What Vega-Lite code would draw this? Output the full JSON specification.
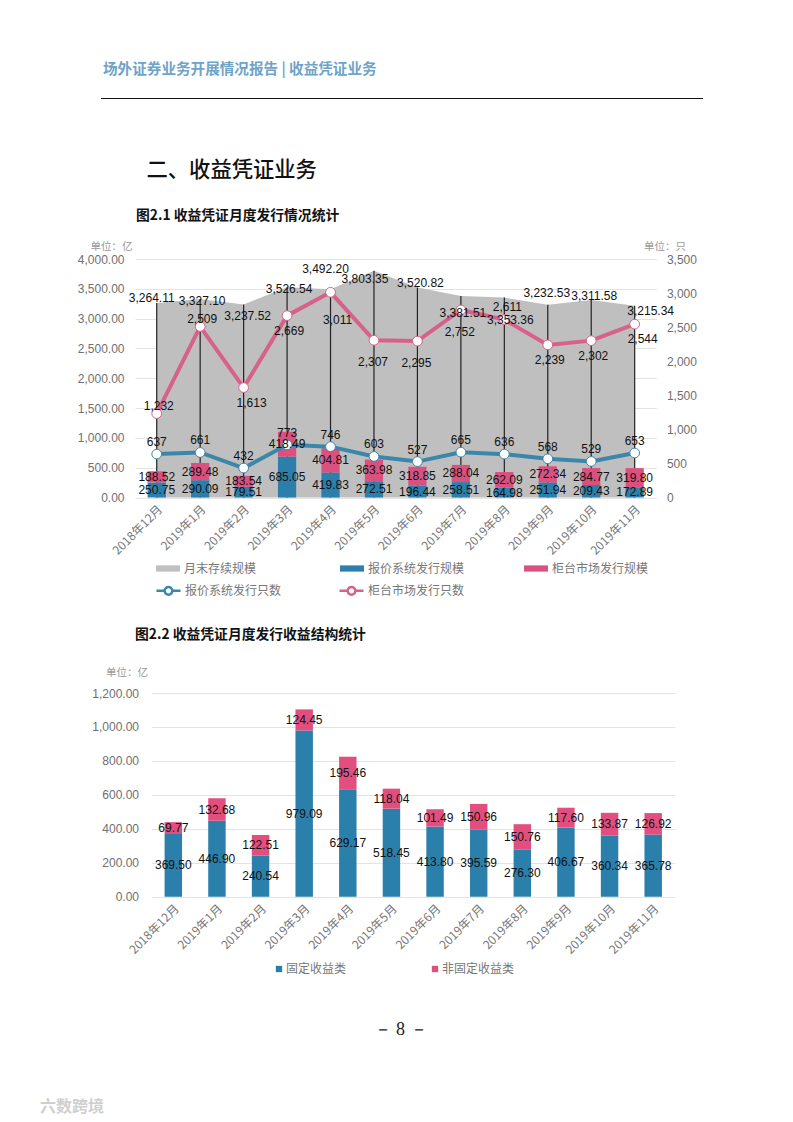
{
"$schema":"https://vega.github.io/schema/vega-lite/v6.json",
"padding":{"left":0,"top":62,"right":0,"bottom":6},
"background":"white",
"title":{"text":"六数跨境","orient":"bottom","anchor":"start","frame":"group","dx":40,"offset":60,"font":"Noto Sans CJK SC","fontSize":16,"fontWeight":"bold","color":"#cfcfcf"},
"config":{"view":{"stroke":null},"font":"Liberation Sans","concat":{"spacing":28},
 "axis":{"labelFont":"Liberation Sans","labelColor":"#6f6f6f","domain":false,"ticks":false,"gridColor":"#e3e3e3","titleFont":"Noto Sans CJK SC","titleFontWeight":"normal","labelOverlap":false},
 "legend":{"labelFont":"Noto Sans CJK SC","labelColor":"#777777","labelFontSize":12,"title":null}},
"datasets":{
"area":[
{"month":"2018年12月","series":"月末存续规模","value":3264.11},{"month":"2019年1月","series":"月末存续规模","value":3327.10},{"month":"2019年2月","series":"月末存续规模","value":3237.52},{"month":"2019年3月","series":"月末存续规模","value":3526.54},{"month":"2019年4月","series":"月末存续规模","value":3492.20},{"month":"2019年5月","series":"月末存续规模","value":3803.35},{"month":"2019年6月","series":"月末存续规模","value":3520.82},{"month":"2019年7月","series":"月末存续规模","value":3381.51},{"month":"2019年8月","series":"月末存续规模","value":3353.36},{"month":"2019年9月","series":"月末存续规模","value":3232.53},{"month":"2019年10月","series":"月末存续规模","value":3311.58},{"month":"2019年11月","series":"月末存续规模","value":3215.34}],
"bars":[
{"month":"2018年12月","series":"报价系统发行规模","value":250.75},{"month":"2019年1月","series":"报价系统发行规模","value":290.09},{"month":"2019年2月","series":"报价系统发行规模","value":179.51},{"month":"2019年3月","series":"报价系统发行规模","value":685.05},{"month":"2019年4月","series":"报价系统发行规模","value":419.83},{"month":"2019年5月","series":"报价系统发行规模","value":272.51},{"month":"2019年6月","series":"报价系统发行规模","value":196.44},{"month":"2019年7月","series":"报价系统发行规模","value":258.51},{"month":"2019年8月","series":"报价系统发行规模","value":164.98},{"month":"2019年9月","series":"报价系统发行规模","value":251.94},{"month":"2019年10月","series":"报价系统发行规模","value":209.43},{"month":"2019年11月","series":"报价系统发行规模","value":172.89},
{"month":"2018年12月","series":"柜台市场发行规模","value":188.52},{"month":"2019年1月","series":"柜台市场发行规模","value":289.48},{"month":"2019年2月","series":"柜台市场发行规模","value":183.54},{"month":"2019年3月","series":"柜台市场发行规模","value":418.49},{"month":"2019年4月","series":"柜台市场发行规模","value":404.81},{"month":"2019年5月","series":"柜台市场发行规模","value":363.98},{"month":"2019年6月","series":"柜台市场发行规模","value":318.85},{"month":"2019年7月","series":"柜台市场发行规模","value":288.04},{"month":"2019年8月","series":"柜台市场发行规模","value":262.09},{"month":"2019年9月","series":"柜台市场发行规模","value":272.34},{"month":"2019年10月","series":"柜台市场发行规模","value":284.77},{"month":"2019年11月","series":"柜台市场发行规模","value":319.80}],
"blue":[
{"month":"2018年12月","series":"报价系统发行只数","value":637},{"month":"2019年1月","series":"报价系统发行只数","value":661},{"month":"2019年2月","series":"报价系统发行只数","value":432},{"month":"2019年3月","series":"报价系统发行只数","value":773},{"month":"2019年4月","series":"报价系统发行只数","value":746},{"month":"2019年5月","series":"报价系统发行只数","value":603},{"month":"2019年6月","series":"报价系统发行只数","value":527},{"month":"2019年7月","series":"报价系统发行只数","value":665},{"month":"2019年8月","series":"报价系统发行只数","value":636},{"month":"2019年9月","series":"报价系统发行只数","value":568},{"month":"2019年10月","series":"报价系统发行只数","value":529},{"month":"2019年11月","series":"报价系统发行只数","value":653}],
"pink":[
{"month":"2018年12月","series":"柜台市场发行只数","value":1232},{"month":"2019年1月","series":"柜台市场发行只数","value":2509},{"month":"2019年2月","series":"柜台市场发行只数","value":1613},{"month":"2019年3月","series":"柜台市场发行只数","value":2669},{"month":"2019年4月","series":"柜台市场发行只数","value":3011},{"month":"2019年5月","series":"柜台市场发行只数","value":2307},{"month":"2019年6月","series":"柜台市场发行只数","value":2295},{"month":"2019年7月","series":"柜台市场发行只数","value":2752},{"month":"2019年8月","series":"柜台市场发行只数","value":2611},{"month":"2019年9月","series":"柜台市场发行只数","value":2239},{"month":"2019年10月","series":"柜台市场发行只数","value":2302},{"month":"2019年11月","series":"柜台市场发行只数","value":2544}],
"structure":[
{"month":"2018年12月","series":"固定收益类","value":369.50},{"month":"2019年1月","series":"固定收益类","value":446.90},{"month":"2019年2月","series":"固定收益类","value":240.54},{"month":"2019年3月","series":"固定收益类","value":979.09},{"month":"2019年4月","series":"固定收益类","value":629.17},{"month":"2019年5月","series":"固定收益类","value":518.45},{"month":"2019年6月","series":"固定收益类","value":413.80},{"month":"2019年7月","series":"固定收益类","value":395.59},{"month":"2019年8月","series":"固定收益类","value":276.30},{"month":"2019年9月","series":"固定收益类","value":406.67},{"month":"2019年10月","series":"固定收益类","value":360.34},{"month":"2019年11月","series":"固定收益类","value":365.78},
{"month":"2018年12月","series":"非固定收益类","value":69.77},{"month":"2019年1月","series":"非固定收益类","value":132.68},{"month":"2019年2月","series":"非固定收益类","value":122.51},{"month":"2019年3月","series":"非固定收益类","value":124.45},{"month":"2019年4月","series":"非固定收益类","value":195.46},{"month":"2019年5月","series":"非固定收益类","value":118.04},{"month":"2019年6月","series":"非固定收益类","value":101.49},{"month":"2019年7月","series":"非固定收益类","value":150.96},{"month":"2019年8月","series":"非固定收益类","value":150.76},{"month":"2019年9月","series":"非固定收益类","value":117.60},{"month":"2019年10月","series":"非固定收益类","value":133.87},{"month":"2019年11月","series":"非固定收益类","value":126.92}],
"line":[{"a":0,"b":1}]
},
"resolve":{"scale":{"color":"independent","stroke":"independent"},"legend":{"color":"independent","stroke":"independent"}},
"vconcat":[
{"resolve":{"scale":{"color":"independent","stroke":"independent"},"legend":{"color":"independent","stroke":"independent"}},"hconcat":[
 {"width":1,"height":1,"data":{"name":"line"},"mark":{"type":"rule","opacity":0},"encoding":{"x":{"field":"a","type":"quantitative","axis":null}}},
 {"width":602,"height":1,"data":{"name":"line"},
  "title":{"text":"场外证券业务开展情况报告 | 收益凭证业务","anchor":"start","frame":"group","dx":2,"offset":21,"font":"Noto Sans CJK SC","fontSize":14.6,"fontWeight":"bold","color":"#6fa3c7"},
  "mark":{"type":"rule","color":"#111111","strokeWidth":1.2},
  "encoding":{
   "x":{"field":"a","type":"quantitative","scale":{"domain":[0,1],"nice":false},"axis":{"labels":false,"grid":false,"title":"二、收益凭证业务","titleX":45,"titleY":71,"titleAlign":"left","titleBaseline":"middle","titleAngle":0,"titleFontSize":21.3,"titleFontWeight":500,"titleColor":"#111111"}},
   "x2":{"field":"b"}}}
 ],"spacing":99},
{"resolve":{"scale":{"color":"independent","stroke":"independent"},"legend":{"color":"independent","stroke":"independent"}},"hconcat":[
 {"width":1,"height":1,"data":{"name":"line"},"mark":{"type":"rule","opacity":0},"encoding":{"x":{"field":"a","type":"quantitative","axis":null}}},
 {"width":521.4,"height":238.5,
  "title":{"text":"图2.1 收益凭证月度发行情况统计","anchor":"start","frame":"group","dx":1,"offset":18,"font":"Noto Sans CJK SC","fontSize":13.8,"fontWeight":"bold","color":"#111111"},
  "encoding":{"x":{"field":"month","type":"nominal","scale":{"type":"band","domain":["2018年12月","2019年1月","2019年2月","2019年3月","2019年4月","2019年5月","2019年6月","2019年7月","2019年8月","2019年9月","2019年10月","2019年11月"],"paddingInner":0.58,"paddingOuter":0.29},"axis":{"title":null,"labelAngle":-45,"labelFont":"Noto Sans CJK SC","labelFontSize":12,"labelColor":"#777777","labelPadding":6,"labelOverlap":false}}},
  "resolve":{"scale":{"y":"independent","color":"shared","stroke":"shared"},"axis":{"y":"independent"}},
  "layer":[
   {"layer":[
    {"data":{"name":"area"},"mark":{"type":"area","opacity":1},"encoding":{
      "y":{"field":"value","type":"quantitative","scale":{"domain":[0,4000],"nice":false},"axis":{"values":[0,500,1000,1500,2000,2500,3000,3500,4000],"tickCount":20,"format":",.2f","labelFontSize":12,"labelPadding":11,"grid":true,"title":"单位：亿","titleAngle":0,"titleX":-45,"titleY":-13,"titleAlign":"left","titleBaseline":"middle","titleFontSize":10.5,"titleColor":"#999999"}},
      "color":{"field":"series","type":"nominal","scale":{"domain":["月末存续规模","报价系统发行规模","柜台市场发行规模"],"range":["#bfbfbf","#2c7fab","#da5180"]},
       "legend":{"orient":"none","legendX":21,"legendY":297.5,"columns":3,"gridAlign":"all","columnPadding":59,"symbolType":"M-1,-0.26H1V0.26H-1Z","symbolSize":576,"symbolStrokeWidth":0,"labelOffset":4}}}},
    {"data":{"name":"area"},"mark":{"type":"rule","color":"#222222","strokeWidth":1.2},"encoding":{"y":{"field":"value","type":"quantitative"},"y2":{"datum":0}}},
    {"data":{"name":"bars"},"transform":[{"stack":"value","groupby":["month"],"sort":[{"field":"series","order":"ascending"}],"as":["y0","y1"]}],
     "mark":{"type":"bar"},"encoding":{"y":{"field":"y1","type":"quantitative"},"y2":{"field":"y0"},"color":{"field":"series","type":"nominal"}}}
   ]},
   {"layer":[
    {"data":{"name":"blue"},"mark":{"type":"line","strokeWidth":4},"encoding":{"y":{"field":"value","type":"quantitative","scale":{"domain":[0,3500],"nice":false},"axis":{"orient":"right","values":[0,500,1000,1500,2000,2500,3000,3500],"tickCount":20,"format":",d","labelFontSize":12,"labelPadding":10,"grid":false,"title":"单位：只","titleAngle":0,"titleX":-13,"titleY":-13,"titleAlign":"left","titleBaseline":"middle","titleFontSize":10.5,"titleColor":"#999999"}},
      "stroke":{"field":"series","type":"nominal","scale":{"domain":["报价系统发行只数","柜台市场发行只数"],"range":["#3b87aa","#d8618b"]},
       "legend":{"orient":"none","legendX":20,"legendY":318,"columns":2,"gridAlign":"all","columnPadding":52,"symbolType":"M-1,0H-0.32M0.32,0H1M0.32,0A0.32,0.32 0 1 1 -0.32,0A0.32,0.32 0 1 1 0.32,0","symbolSize":576,"symbolStrokeWidth":2.5,"symbolFillColor":"white","labelOffset":3}}}},
    {"data":{"name":"pink"},"mark":{"type":"line","strokeWidth":4},"encoding":{"y":{"field":"value","type":"quantitative"},"stroke":{"field":"series","type":"nominal"}}},
    {"data":{"name":"blue"},"mark":{"type":"point","filled":false,"fill":"white","fillOpacity":1,"opacity":1,"size":95,"strokeWidth":1},"encoding":{"y":{"field":"value","type":"quantitative"},"stroke":{"field":"series","type":"nominal"}}},
    {"data":{"name":"pink"},"mark":{"type":"point","filled":false,"fill":"white","fillOpacity":1,"opacity":1,"size":95,"strokeWidth":1},"encoding":{"y":{"field":"value","type":"quantitative"},"stroke":{"field":"series","type":"nominal"}}},
    {"data":{"name":"blue"},"mark":{"type":"text","dy":-12,"fontSize":12,"color":"#111111"},"encoding":{"y":{"field":"value","type":"quantitative"},"text":{"field":"value","type":"quantitative","format":",d"}}},
    {"data":{"name":"pink"},"transform":[{"filter":{"field":"month","oneOf":["2018年12月","2019年1月"]}}],"mark":{"type":"text","dy":-8,"dx":2,"fontSize":12,"color":"#111111"},"encoding":{"y":{"field":"value","type":"quantitative"},"text":{"field":"value","type":"quantitative","format":",d"}}},
    {"data":{"name":"pink"},"transform":[{"filter":{"field":"month","oneOf":["2019年8月"]}}],"mark":{"type":"text","dy":-13,"dx":3,"fontSize":12,"color":"#111111"},"encoding":{"y":{"field":"value","type":"quantitative"},"text":{"field":"value","type":"quantitative","format":",d"}}},
    {"data":{"name":"pink"},"transform":[{"filter":{"field":"month","oneOf":["2019年3月","2019年9月","2019年10月"]}}],"mark":{"type":"text","dy":15,"dx":2,"fontSize":12,"color":"#111111"},"encoding":{"y":{"field":"value","type":"quantitative"},"text":{"field":"value","type":"quantitative","format":",d"}}},
    {"data":{"name":"pink"},"transform":[{"filter":{"field":"month","oneOf":["2019年2月","2019年11月"]}}],"mark":{"type":"text","dy":15,"dx":8,"fontSize":12,"color":"#111111"},"encoding":{"y":{"field":"value","type":"quantitative"},"text":{"field":"value","type":"quantitative","format":",d"}}},
    {"data":{"name":"pink"},"transform":[{"filter":{"field":"month","oneOf":["2019年4月"]}}],"mark":{"type":"text","dy":28,"dx":7,"fontSize":12,"color":"#111111"},"encoding":{"y":{"field":"value","type":"quantitative"},"text":{"field":"value","type":"quantitative","format":",d"}}},
    {"data":{"name":"pink"},"transform":[{"filter":{"field":"month","oneOf":["2019年5月","2019年6月","2019年7月"]}}],"mark":{"type":"text","dy":22,"dx":-1,"fontSize":12,"color":"#111111"},"encoding":{"y":{"field":"value","type":"quantitative"},"text":{"field":"value","type":"quantitative","format":",d"}}}
   ]},
   {"layer":[
    {"data":{"name":"bars"},"transform":[{"stack":"value","groupby":["month"],"sort":[{"field":"series","order":"ascending"}],"as":["y0","y1"]},{"calculate":"(datum.y0+datum.y1)/2","as":"mid"}],
     "mark":{"type":"text","fontSize":12,"color":"#111111"},"encoding":{"y":{"field":"mid","type":"quantitative","scale":{"domain":[0,4000],"nice":false},"axis":null},"text":{"field":"value","type":"quantitative","format":",.2f"}}},
    {"data":{"name":"area"},"transform":[{"filter":{"field":"month","oneOf":["2018年12月"]}}],"mark":{"type":"text","dy":-5,"dx":-5,"fontSize":12,"color":"#111111"},"encoding":{"y":{"field":"value","type":"quantitative"},"text":{"field":"value","type":"quantitative","format":",.2f"}}},
    {"data":{"name":"area"},"transform":[{"filter":{"field":"month","oneOf":["2019年1月","2019年3月"]}}],"mark":{"type":"text","dy":2,"dx":2,"fontSize":12,"color":"#111111"},"encoding":{"y":{"field":"value","type":"quantitative"},"text":{"field":"value","type":"quantitative","format":",.2f"}}},
    {"data":{"name":"area"},"transform":[{"filter":{"field":"month","oneOf":["2019年2月"]}}],"mark":{"type":"text","dy":12,"dx":4,"fontSize":12,"color":"#111111"},"encoding":{"y":{"field":"value","type":"quantitative"},"text":{"field":"value","type":"quantitative","format":",.2f"}}},
    {"data":{"name":"area"},"transform":[{"filter":{"field":"month","oneOf":["2019年4月"]}}],"mark":{"type":"text","dy":-20,"dx":-5,"fontSize":12,"color":"#111111"},"encoding":{"y":{"field":"value","type":"quantitative"},"text":{"field":"value","type":"quantitative","format":",.2f"}}},
    {"data":{"name":"area"},"transform":[{"filter":{"field":"month","oneOf":["2019年5月"]}}],"mark":{"type":"text","dy":8,"dx":-9,"fontSize":12,"color":"#111111"},"encoding":{"y":{"field":"value","type":"quantitative"},"text":{"field":"value","type":"quantitative","format":",.2f"}}},
    {"data":{"name":"area"},"transform":[{"filter":{"field":"month","oneOf":["2019年6月","2019年10月"]}}],"mark":{"type":"text","dy":-4.5,"dx":3,"fontSize":12,"color":"#111111"},"encoding":{"y":{"field":"value","type":"quantitative"},"text":{"field":"value","type":"quantitative","format":",.2f"}}},
    {"data":{"name":"area"},"transform":[{"filter":{"field":"month","oneOf":["2019年7月"]}}],"mark":{"type":"text","dy":17,"dx":2,"fontSize":12,"color":"#111111"},"encoding":{"y":{"field":"value","type":"quantitative"},"text":{"field":"value","type":"quantitative","format":",.2f"}}},
    {"data":{"name":"area"},"transform":[{"filter":{"field":"month","oneOf":["2019年8月"]}}],"mark":{"type":"text","dy":22,"dx":6,"fontSize":12,"color":"#111111"},"encoding":{"y":{"field":"value","type":"quantitative"},"text":{"field":"value","type":"quantitative","format":",.2f"}}},
    {"data":{"name":"area"},"transform":[{"filter":{"field":"month","oneOf":["2019年9月"]}}],"mark":{"type":"text","dy":-12,"dx":-1,"fontSize":12,"color":"#111111"},"encoding":{"y":{"field":"value","type":"quantitative"},"text":{"field":"value","type":"quantitative","format":",.2f"}}},
    {"data":{"name":"area"},"transform":[{"filter":{"field":"month","oneOf":["2019年11月"]}}],"mark":{"type":"text","dy":5,"dx":16,"fontSize":12,"color":"#111111"},"encoding":{"y":{"field":"value","type":"quantitative"},"text":{"field":"value","type":"quantitative","format":",.2f"}}}
   ]}
  ]}
 ],"spacing":76},
{"resolve":{"scale":{"color":"independent","stroke":"independent"},"legend":{"color":"independent","stroke":"independent"}},"hconcat":[
 {"width":1,"height":1,"data":{"name":"line"},"mark":{"type":"rule","opacity":0},"encoding":{"x":{"field":"a","type":"quantitative","axis":null}}},
 {"width":523.5,"height":203.7,"data":{"name":"structure"},
  "title":{"text":"图2.2 收益凭证月度发行收益结构统计","anchor":"start","frame":"group","dx":-16.5,"offset":25,"font":"Noto Sans CJK SC","fontSize":13.8,"fontWeight":"bold","color":"#111111"},
  "transform":[{"stack":"value","groupby":["month"],"sort":[{"field":"series","order":"ascending"}],"as":["y0","y1"]},{"calculate":"(datum.y0+datum.y1)/2","as":"mid"}],
  "encoding":{"x":{"field":"month","type":"nominal","scale":{"type":"band","domain":["2018年12月","2019年1月","2019年2月","2019年3月","2019年4月","2019年5月","2019年6月","2019年7月","2019年8月","2019年9月","2019年10月","2019年11月"],"paddingInner":0.6,"paddingOuter":0.3},"axis":{"labelAngle":-45,"labelFont":"Noto Sans CJK SC","labelFontSize":12,"labelColor":"#777777","labelPadding":6,"labelOverlap":false,"title":"－ 8 －","titleX":248.5,"titleY":133,"titleAlign":"center","titleBaseline":"middle","titleAngle":0,"titleFont":"Liberation Serif","titleFontSize":18,"titleColor":"#222222"}}},
  "layer":[
   {"mark":{"type":"bar"},"encoding":{
     "y":{"field":"y1","type":"quantitative","scale":{"domain":[0,1200],"nice":false},"axis":{"values":[0,200,400,600,800,1000,1200],"tickCount":20,"format":",.2f","labelFontSize":12,"labelPadding":13,"grid":true,"title":"单位：亿","titleAngle":0,"titleX":-46,"titleY":-21,"titleAlign":"left","titleBaseline":"middle","titleFontSize":10.5,"titleColor":"#999999"}},
     "y2":{"field":"y0"},
     "color":{"field":"series","type":"nominal","scale":{"domain":["固定收益类","非固定收益类"],"range":["#2a7fab","#e24f7f"]},
      "legend":{"orient":"none","legendX":121.5,"legendY":270,"columns":2,"gridAlign":"all","columnPadding":70,"symbolType":"square","symbolSize":40,"symbolStrokeWidth":0,"labelOffset":1}}}},
   {"mark":{"type":"text","fontSize":12,"color":"#111111"},"encoding":{"y":{"field":"mid","type":"quantitative"},"text":{"field":"value","type":"quantitative","format":",.2f"}}}
  ]}
 ],"spacing":90.5}
]
}
